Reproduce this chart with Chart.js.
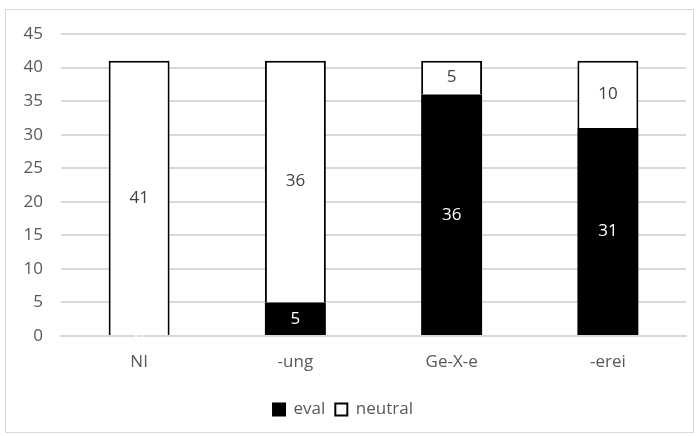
<!DOCTYPE html>
<html>
<head>
<meta charset="utf-8">
<script src="https://cdn.jsdelivr.net/npm/chart.js@4/dist/chart.umd.min.js"></script>
<style>
  html, body { margin: 0; padding: 0; background: #fff; }
  #wrap { width: 699px; height: 436px; }
</style>
</head>
<body>
<div id="wrap"><canvas id="c" width="699" height="436"></canvas></div>
<script>
const categories = ['NI', '-ung', 'Ge-X-e', '-erei'];
const evalValues = [0, 5, 36, 31];
const neutralValues = [41, 36, 5, 10];
const yTicks = [0, 5, 10, 15, 20, 25, 30, 35, 40, 45];

const FONT = "'Open Sans', 'Liberation Sans', sans-serif";
const FS = 17;
const GRAY = '#595959';
const GRID = '#d9d9d9';

// White background, grid kept inside the plot width, thin outer frame
const framePlugin = {
  id: 'frame',
  beforeDraw(chart) {
    const ctx = chart.ctx;
    ctx.save();
    ctx.fillStyle = '#fff';
    ctx.fillRect(0, 0, chart.width, chart.height);
    ctx.beginPath();
    ctx.rect(0, 0, Math.round(chart.chartArea.right) + 1, chart.height);
    ctx.clip();
  },
  afterDraw(chart) {
    const ctx = chart.ctx;
    ctx.restore();
    ctx.save();
    ctx.strokeStyle = GRID;
    ctx.lineWidth = 1;
    ctx.strokeRect(5.5, 9.5, 688, 423);
    ctx.restore();
  }
};

// Value labels centred in each stacked segment
const valueLabels = {
  id: 'valueLabels',
  afterDatasetsDraw(chart) {
    const ctx = chart.ctx;
    ctx.save();
    ctx.font = FS + 'px ' + FONT;
    ctx.textAlign = 'center';
    ctx.textBaseline = 'middle';
    chart.data.datasets.forEach((ds, di) => {
      const meta = chart.getDatasetMeta(di);
      meta.data.forEach((bar, i) => {
        const v = ds.data[i];
        const y = (bar.y + bar.base) / 2;
        ctx.fillStyle = di === 0 ? '#ffffff' : '#404040';
        ctx.fillText(String(v), bar.x, y);
      });
    });
    ctx.restore();
  }
};

new Chart(document.getElementById('c'), {
  type: 'bar',
  data: {
    labels: categories,
    datasets: [
      { label: 'eval', data: evalValues, backgroundColor: '#000000', borderColor: '#000000', borderWidth: 0, barPercentage: 0.39, categoryPercentage: 1.0 },
      { label: 'neutral', data: neutralValues, backgroundColor: '#ffffff', borderColor: '#000000', borderWidth: 2, barPercentage: 0.39, categoryPercentage: 1.0 }
    ]
  },
  options: {
    responsive: false,
    animation: false,
    layout: { padding: { left: 0, right: 13, top: 34, bottom: 8 } },
    plugins: {
      tooltip: { enabled: false },
      legend: {
        position: 'bottom',
        labels: {
          font: { family: FONT, size: FS }, color: GRAY, boxWidth: 12, boxHeight: 12, padding: 10,
          generateLabels(chart) {
            return chart.data.datasets.map((ds, i) => ({ text: ds.label, fillStyle: ds.backgroundColor, strokeStyle: '#000000', lineWidth: 2, datasetIndex: i, fontColor: GRAY }));
          }
        }
      }
    },
    scales: {
      x: {
        stacked: true,
        grid: { display: false },
        border: { color: GRID, width: 2 },
        ticks: { color: GRAY, font: { family: FONT, size: FS }, padding: 8 },
        afterFit(s) { s.height = 55; }
      },
      y: {
        stacked: true, min: 0, max: 45,
        afterBuildTicks(s) { s.ticks = yTicks.map(v => ({ value: v })); },
        grid: { color: GRID, lineWidth: 2, drawTicks: false },
        border: { display: false },
        ticks: { color: GRAY, font: { family: FONT, size: FS }, padding: 18 },
        afterFit(s) { s.width = 61; }
      }
    }
  },
  plugins: [framePlugin, valueLabels]
});
</script>
</body>
</html>
